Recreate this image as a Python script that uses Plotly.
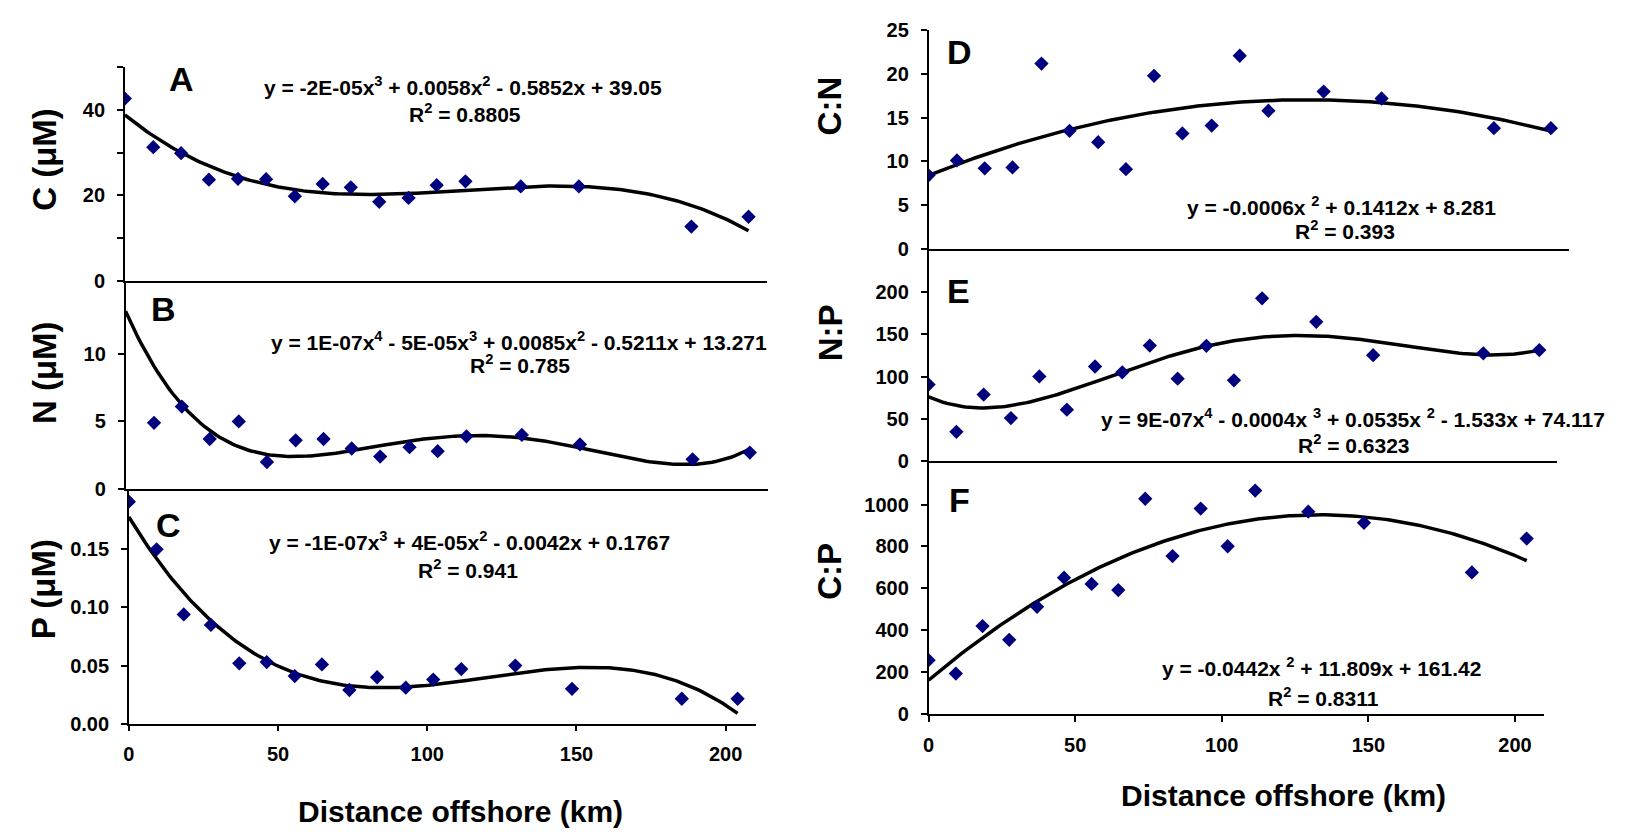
import numpy as np
import plotly.graph_objects as go

W, H = 1625, 836

# ---------------- data ----------------
distance_km = [0, 9.3, 18.4, 27.5, 37.0, 46.2, 55.6, 64.7, 73.9, 83.2, 92.8, 102.0, 111.4, 129.5, 148.5, 185.3, 204.0]

carbon_uM = [42.7, 31.3, 29.9, 23.7, 23.9, 23.8, 19.8, 22.7, 21.9, 18.5, 19.4, 22.4, 23.3, 22.1, 22.1, 12.7, 15.0]
nitrogen_uM = [16.0, 4.9, 6.1, 3.7, 5.0, 2.0, 3.6, 3.7, 3.0, 2.4, 3.1, 2.8, 3.9, 4.0, 3.3, 2.2, 2.7]
phosphorus_uM = [0.191, 0.150, 0.094, 0.085, 0.052, 0.053, 0.041, 0.051, 0.029, 0.040, 0.031, 0.038, 0.047, 0.050, 0.030, 0.0215, 0.0215]
c_to_n = [8.4, 10.1, 9.2, 9.3, 21.2, 13.5, 12.2, 9.1, 19.8, 13.2, 14.1, 22.1, 15.8, 18.0, 17.2, 13.8, 13.8]
n_to_p = [90.6, 34.4, 78.7, 50.8, 100.2, 60.8, 112.0, 105.1, 136.9, 97.5, 136.5, 95.6, 193.0, 165.1, 125.4, 127.7, 131.5]
c_to_p = [257, 193, 420, 354, 512, 651, 621, 592, 1028, 754, 981, 801, 1067, 966, 913, 676, 838]

panel_letters = ["A", "B", "C", "D", "E", "F"]
y_titles = ["C (μM)", "N (μM)", "P (μM)", "C:N", "N:P", "C:P"]
fit_degrees = [3, 4, 3, 2, 4, 2]
equations = [
    "y = -2E-05x<sup>3</sup> + 0.0058x<sup>2</sup> - 0.5852x + 39.05",
    "y = 1E-07x<sup>4</sup> - 5E-05x<sup>3</sup> + 0.0085x<sup>2</sup> - 0.5211x + 13.271",
    "y = -1E-07x<sup>3</sup> + 4E-05x<sup>2</sup> - 0.0042x + 0.1767",
    "y = -0.0006x <sup>2</sup> + 0.1412x + 8.281",
    "y = 9E-07x<sup>4</sup> - 0.0004x <sup>3</sup> + 0.0535x <sup>2</sup> - 1.533x + 74.117",
    "y = -0.0442x <sup>2</sup> + 11.809x + 161.42",
]
r_squared = ["0.8805", "0.785", "0.941", "0.393", "0.6323", "0.8311"]
x_title = "Distance offshore (km)"
x_ticks = [0, 50, 100, 150, 200]

series = [carbon_uM, nitrogen_uM, phosphorus_uM, c_to_n, n_to_p, c_to_p]

# ---------------- layout geometry (pixels) ----------------
panels = [
    dict(xd=(119.3, 763.7), yd=(58, 277), yr=(0, 50), tv=[0, 10, 20, 30, 40, 50], tt=["0", "", "20", "", "40", ""]),
    dict(xd=(120, 765), yd=(277, 491), yr=(0, 15.4), tv=[0, 5, 10], tt=["0", "5", "10"]),
    dict(xd=(123.3, 752.3), yd=(492, 732), yr=(0, 0.201), tv=[0, 0.05, 0.10, 0.15], tt=["0.00", "0.05", "0.10", "0.15"]),
    dict(xd=(926, 1569), yd=(20, 244), yr=(0, 25), tv=[0, 5, 10, 15, 20, 25], tt=["0", "5", "10", "15", "20", "25"]),
    dict(xd=(926, 1557), yd=(244, 462), yr=(0, 252), tv=[0, 50, 100, 150, 200], tt=["0", "50", "100", "150", "200"]),
    dict(xd=(926, 1544), yd=(462, 722), yr=(0, 1209), tv=[0, 200, 400, 600, 800, 1000], tt=["0", "200", "400", "600", "800", "1000"]),
]
letter_pos = [(176, 70), (158, 306), (163, 528), (957, 42), (956, 288), (957, 502)]
eq_pos = [(459, 77), (515, 339), (465, 544), (1340, 200), (1352, 418), (1320, 674)]
r2_pos = [(461, 105), (516, 363), (464, 573), (1344, 225), (1353, 445), (1322, 705)]
ytitle_pos = [(38, 152), (38, 371), (38, 594), (827, 97), (827, 330), (827, 575)]
xtitle_pos = [(456, 822), (1282, 806)]

FONT = "Liberation Sans, Arial, sans-serif"


def px_x(v):
    return v / W


def px_y(v):
    return 1 - v / H


fig = go.Figure()
layout = dict(
    width=W, height=H, margin=dict(l=0, r=0, t=0, b=0),
    paper_bgcolor="white", plot_bgcolor="white", showlegend=False,
    font=dict(family=FONT, color="black"),
)
annotations = []


def add_text(text, x, y, size, angle=0):
    annotations.append(dict(text=text, x=px_x(x), y=px_y(y), xref="paper", yref="paper",
                            xanchor="center", yanchor="middle", showarrow=False, textangle=angle,
                            font=dict(family=FONT, size=size, color="black")))


for i, (p, ys) in enumerate(zip(panels, series)):
    n = i + 1
    xa = "x" if n == 1 else f"x{n}"
    ya = "y" if n == 1 else f"y{n}"
    xk = "xaxis" if n == 1 else f"xaxis{n}"
    yk = "yaxis" if n == 1 else f"yaxis{n}"

    xs = np.array(distance_km, dtype=float)
    yv = np.array(ys, dtype=float)
    coef = np.polyfit(xs, yv, fit_degrees[i])
    xf = np.linspace(xs.min(), xs.max(), 200)
    yf = np.polyval(coef, xf)

    fig.add_trace(go.Scatter(x=xf, y=yf, mode="lines", line=dict(color="black", width=3.5),
                             xaxis=xa, yaxis=ya, hoverinfo="skip"))
    fig.add_trace(go.Scatter(x=xs, y=yv, mode="markers", xaxis=xa, yaxis=ya,
                             marker=dict(symbol="diamond", size=11, color="#00007f",
                                         line=dict(width=0)), cliponaxis=True))

    bottom_panel = i in (2, 5)
    layout[xk] = dict(
        domain=[px_x(p["xd"][0]), px_x(p["xd"][1])], range=[0, 210], anchor=ya,
        showline=True, linecolor="black", linewidth=1.5, showgrid=False, zeroline=False,
        ticks="outside" if bottom_panel else "", ticklen=6, tickcolor="black", tickwidth=1.5,
        tickvals=x_ticks if bottom_panel else [], showticklabels=bottom_panel,
        ticklabelstandoff=6,
        tickfont=dict(family=FONT, size=20, color="black", weight="bold"),
    )
    layout[yk] = dict(
        domain=[px_y(p["yd"][1]), px_y(p["yd"][0])], range=list(p["yr"]), anchor=xa,
        showline=True, linecolor="black", linewidth=1.5, showgrid=False, zeroline=False,
        ticks="outside", ticklen=6, tickcolor="black", tickwidth=1.5,
        tickvals=p["tv"], ticktext=p["tt"], ticklabelstandoff=8,
        tickfont=dict(family=FONT, size=20, color="black", weight="bold"),
    )

    add_text(f"<b>{panel_letters[i]}</b>", *letter_pos[i], 34)
    add_text(f"<b>{equations[i]}</b>", *eq_pos[i], 21)
    add_text(f"<b>R<sup>2</sup> = {r_squared[i]}</b>", *r2_pos[i], 21)
    add_text(f"<b>{y_titles[i]}</b>", *ytitle_pos[i], 33, angle=-90)

for (tx, ty) in xtitle_pos:
    add_text(f"<b>{x_title}</b>", tx, ty, 30)

layout["annotations"] = annotations
fig.update_layout(**layout)
fig.write_html("out.html")
